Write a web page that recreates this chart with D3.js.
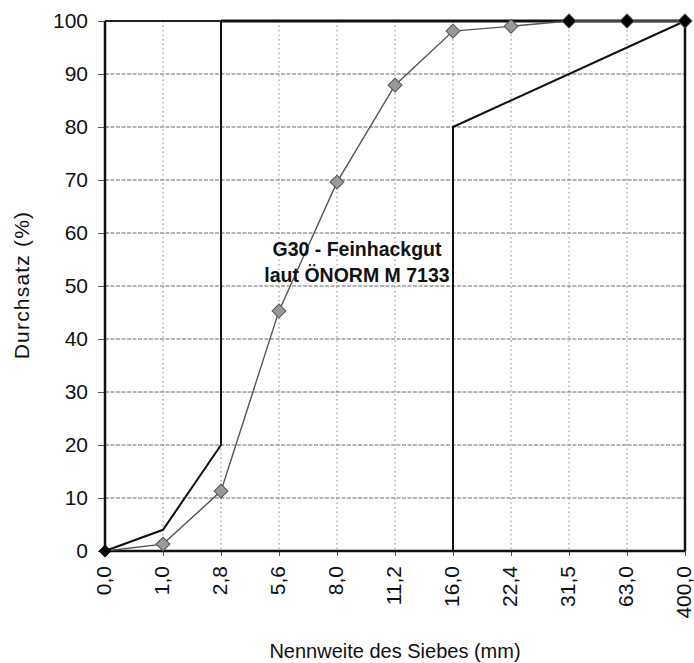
<!DOCTYPE html>
<html><head><meta charset="utf-8">
<script src="https://cdn.jsdelivr.net/npm/d3@7"></script>
<style>body{margin:0;background:#fff}svg{display:block}text{font-family:"Liberation Sans",Arial,sans-serif}</style>
</head><body><svg id="c" width="694" height="663"></svg>
<script>
const categories = ["0,0","1,0","2,8","5,6","8,0","11,2","16,0","22,4","31,5","63,0","400,0"];
const sample = [0, 1.3, 11.3, 45.3, 69.6, 87.9, 98.1, 99, 100, 100, 100];
// upper limit (max passage): [category, value]
const upperLimit = [["0,0",0],["1,0",4],["2,8",20],["2,8",100],["400,0",100]];
// lower limit (min passage)
const lowerLimit = [["0,0",0],["16,0",0],["16,0",80],["400,0",100]];
const blackMarkers = [["0,0",0],["31,5",100],["63,0",100],["400,0",100]];
const yTicks = [0,10,20,30,40,50,60,70,80,90,100];
const labelLines = ["G30 - Feinhackgut","laut ÖNORM M 7133"];

const svg = d3.select("#c");
const L=105, R=685, T=21, B=551;
const x = d3.scalePoint().domain(categories).range([L,R]);
const y = d3.scaleLinear().domain([0,100]).range([B,T]);

// grid
const g = svg.append("g");
g.selectAll(".hg").data(yTicks.slice(1,-1)).join("line")
 .attr("x1",L).attr("x2",R).attr("y1",d=>y(d)).attr("y2",d=>y(d))
 .attr("stroke","#666").attr("stroke-width",1).attr("stroke-dasharray","4,1.5");
g.selectAll(".vg").data(categories.slice(1,-1)).join("line")
 .attr("x1",d=>x(d)).attr("x2",d=>x(d)).attr("y1",T).attr("y2",B)
 .attr("stroke","#888").attr("stroke-width",1).attr("stroke-dasharray","1.5,3");

// axes
const yAxis = d3.axisLeft(y).tickValues(yTicks).tickSize(7).tickPadding(10);
const ya = svg.append("g").attr("transform",`translate(${L},0)`).call(yAxis);
ya.select(".domain").remove();
ya.selectAll("line").attr("stroke","#555");
ya.selectAll("text").attr("font-size",21).attr("fill","#111");

const xAxis = d3.axisBottom(x).tickSize(5).tickPadding(8);
const xa = svg.append("g").attr("transform",`translate(0,${B})`).call(xAxis);
xa.select(".domain").remove();
xa.selectAll("line").attr("stroke","#555");
xa.selectAll("text").attr("font-size",21).attr("fill","#111")
  .attr("text-anchor","end")
  .attr("x",-15).attr("y",0).attr("dy","0.28em")
  .attr("transform","rotate(-90)");

// left axis line
svg.append("line").attr("x1",L).attr("x2",L).attr("y1",T).attr("y2",B).attr("stroke","#111").attr("stroke-width",2.5);

const line = d3.line().x(d=>x(d[0])).y(d=>y(d[1]));
svg.append("path").datum(upperLimit).attr("d",line).attr("fill","none").attr("stroke","#111").attr("stroke-width",2);
svg.append("path").datum(lowerLimit).attr("d",line).attr("fill","none").attr("stroke","#111").attr("stroke-width",2);
// top and right border lines emphasised
svg.append("line").attr("x1",x("2,8")).attr("x2",R).attr("y1",T).attr("y2",T).attr("stroke","#111").attr("stroke-width",3);
svg.append("line").attr("x1",R).attr("x2",R).attr("y1",T).attr("y2",B).attr("stroke","#111").attr("stroke-width",2.5);
svg.append("line").attr("x1",L).attr("x2",R).attr("y1",B).attr("y2",B).attr("stroke","#111").attr("stroke-width",2.5);
svg.append("line").attr("x1",L).attr("x2",x("2,8")).attr("y1",T).attr("y2",T).attr("stroke","#222").attr("stroke-width",2);

// sample series
const sData = categories.map((c,i)=>[c,sample[i]]);
svg.append("path").datum(sData).attr("d",line).attr("fill","none").attr("stroke","#555").attr("stroke-width",1.4);
const sq = d3.symbol().type(d3.symbolSquare);
svg.selectAll(".sm").data(sData.slice(1)).join("path")
 .attr("transform",d=>`translate(${x(d[0])},${y(d[1])}) rotate(45)`)
 .attr("d",sq.size(96)()).attr("fill","#999").attr("stroke","#555").attr("stroke-width",1);

svg.selectAll(".bm").data(blackMarkers).join("path")
 .attr("transform",d=>`translate(${x(d[0])},${y(d[1])}) rotate(45)`)
 .attr("d",d3.symbol().type(d3.symbolSquare).size(84)()).attr("fill","#000");

// annotation
svg.selectAll(".ann").data(labelLines).join("text")
 .attr("x",357).attr("y",(d,i)=>256+i*26).attr("text-anchor","middle")
 .attr("font-size",19.5).attr("font-weight","bold").attr("fill","#111").text(d=>d);

// titles
svg.append("text").attr("transform","translate(29,285) rotate(-90)").attr("text-anchor","middle")
 .attr("font-size",21).attr("letter-spacing",1.2).attr("fill","#111").text("Durchsatz (%)");
svg.append("text").attr("x",395).attr("y",658).attr("text-anchor","middle")
 .attr("font-size",20).attr("fill","#111").text("Nennweite des Siebes (mm)");
</script></body></html>
